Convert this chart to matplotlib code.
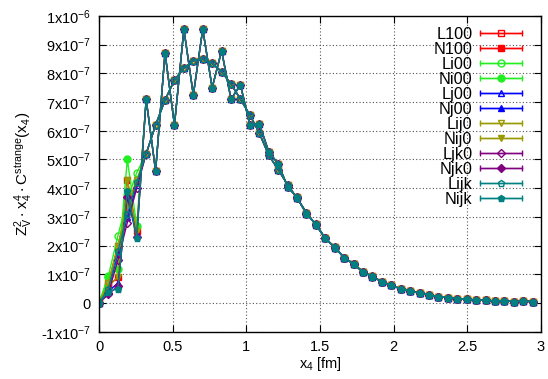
import numpy as np
import matplotlib
matplotlib.use('Agg')
import matplotlib.pyplot as plt
from matplotlib.container import ErrorbarContainer
from matplotlib.legend_handler import HandlerErrorbar

plt.rcParams['font.family'] = ['Liberation Sans', 'DejaVu Sans']
plt.rcParams['mathtext.default'] = 'regular'

# lattice step in fm, x4 = n * A
A = 0.064
N_POINTS = 47
SCALE = 1e-7

# values in units of 1e-7, n = 5 .. 46 (shared by all "L" / all "N" series)
l_tail = [5.2, 6.2, 7.07, 7.77, 8.18, 8.44, 8.49, 8.35, 8.06, 7.63, 7.1, 6.55,
          5.92, 5.15, 4.65, 4.12, 3.65, 3.15, 2.72, 2.25, 1.93, 1.58, 1.35, 1.08,
          0.92, 0.74, 0.62, 0.49, 0.42, 0.34, 0.28, 0.22, 0.19, 0.15, 0.13, 0.10,
          0.09, 0.07, 0.07, 0.05, 0.06, 0.05]
n_tail = [7.1, 4.6, 8.72, 6.2, 9.54, 7.25, 9.54, 7.5, 8.79, 7.1, 7.6, 6.2,
          6.24, 5.27, 4.85, 4.05, 3.68, 3.1, 2.75, 2.25, 1.95, 1.58, 1.37, 1.08,
          0.93, 0.74, 0.62, 0.49, 0.42, 0.34, 0.28, 0.22, 0.19, 0.15, 0.13, 0.10,
          0.09, 0.07, 0.07, 0.05, 0.06, 0.05]

# first points (n = 0 .. 4) differ from series to series
heads = {
    'L100': [0, 0.70, 2.00, 3.30, 4.20],
    'N100': [0, 0.60, 0.90, 4.30, 2.50],
    'Li00': [0, 0.95, 2.34, 3.60, 4.54],
    'Ni00': [0, 0.90, 1.20, 5.00, 2.70],
    'Lj00': [0, 0.50, 1.70, 3.00, 4.10],
    'Nj00': [0, 0.40, 0.70, 3.80, 2.40],
    'Lij0': [0, 0.70, 2.00, 3.40, 4.30],
    'Nij0': [0, 0.60, 0.90, 4.30, 2.50],
    'Ljk0': [0, 0.35, 1.50, 2.80, 4.00],
    'Njk0': [0, 0.30, 0.60, 3.70, 2.30],
    'Lijk': [0, 0.50, 1.80, 3.10, 4.20],
    'Nijk': [0, 0.40, 0.50, 3.90, 2.26],
}

names = ['L100', 'N100', 'Li00', 'Ni00', 'Lj00', 'Nj00',
         'Lij0', 'Nij0', 'Ljk0', 'Njk0', 'Lijk', 'Nijk']
colors = ['#ff0000', '#ff0000', '#22ee22', '#22ee22', '#0000ff', '#0000ff',
          '#999900', '#999900', '#800080', '#800080', '#008080', '#008080']
markers = ['s', 's', 'o', 'o', '^', '^', 'v', 'v', 'D', 'D', 'p', 'p']

x = np.arange(N_POINTS) * A

fig = plt.figure(figsize=(5.48, 3.79), dpi=100)
ax = fig.add_axes([0.1807, 0.1248, 0.8065, 0.833])

handles = []
for name, col, mk in zip(names, colors, markers):
    tail = l_tail if name[0] == 'L' else n_tail
    y = np.array(heads[name] + tail) * SCALE
    filled = name[0] == 'N'
    ms = 5 if mk != 'D' else 4
    eb = ax.errorbar(x, y, xerr=np.zeros_like(x), color=col, lw=1.0,
                     marker=mk, ms=ms, mew=1.0,
                     mfc=col if filled else 'none', mec=col,
                     capsize=2.5, elinewidth=1.0, label=name)
    for c in eb[1]:
        c.set_data([], [])
    handles.append(eb)

ax.set_xlim(0, 3)
ax.set_ylim(-1e-7, 1e-6)
ax.set_xticks(np.arange(0, 3.01, 0.5))
ax.set_xticklabels(['0', '0.5', '1', '1.5', '2', '2.5', '3'])
yt = np.arange(-1, 11) * 1e-7
ax.set_yticks(yt)
ylabels = []
for k in range(-1, 11):
    if k == 0:
        ylabels.append('0')
    elif k == 10:
        ylabels.append('1x10$^{-6}$')
    else:
        ylabels.append('%dx10$^{-7}$' % k)
ax.set_yticklabels(ylabels)

ax.tick_params(direction='in', length=5, width=0.8, top=True, right=True,
               labelsize=10.5, pad=6, colors='black')
ax.grid(True, color='#555555', ls=(0, (1, 2)), lw=0.8)
for s in ax.spines.values():
    s.set_linewidth(1.0)

ax.set_xlabel('x$_4$ [fm]', fontsize=10.5, labelpad=1)
ax.set_ylabel(r'$Z_V^2 \cdot x_4^4 \cdot C^{strange}(x_4)$', fontsize=11,
              labelpad=4)

hl = 2.6
leg = ax.legend(handles=handles, loc='upper right', frameon=False,
                markerfirst=False, fontsize=11.7, handlelength=hl,
                handletextpad=0.45, labelspacing=0.0, borderaxespad=0,
                borderpad=0, bbox_to_anchor=(0.957, 0.965),
                handler_map={ErrorbarContainer: HandlerErrorbar(xerr_size=hl / 2)})

fig.savefig('out.png', dpi=100)
